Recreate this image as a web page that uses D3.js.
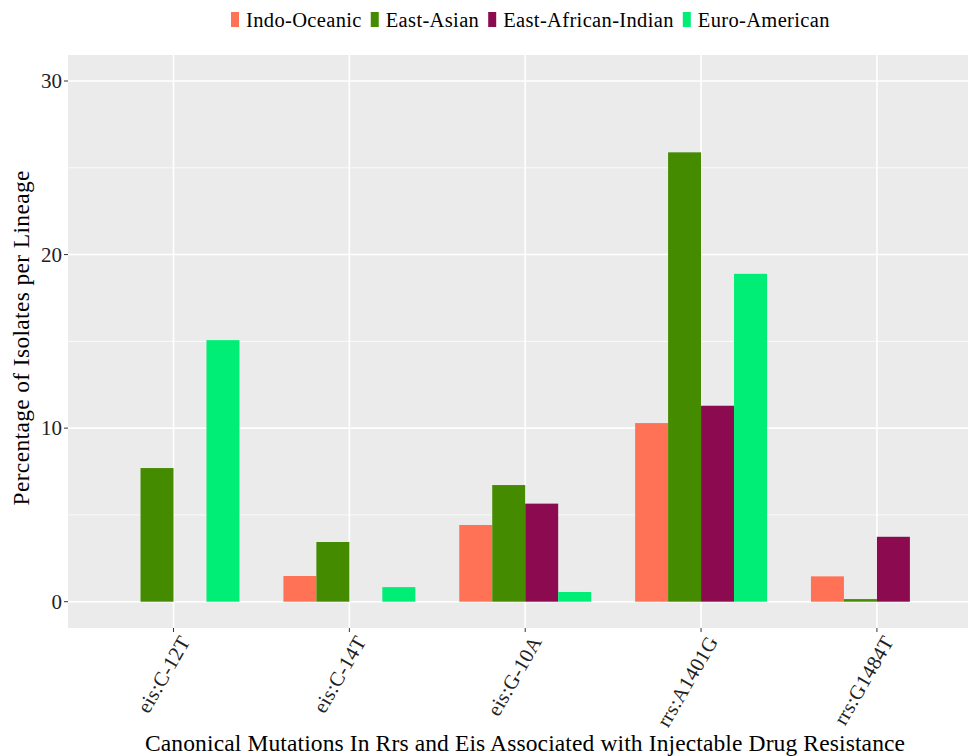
<!DOCTYPE html>
<html><head><meta charset="utf-8">
<script src="https://cdn.jsdelivr.net/npm/d3@7"></script>
<style>body{margin:0;background:#fff}svg{display:block}</style>
</head><body>
<script>
const categories = ["eis:C-12T","eis:C-14T","eis:G-10A","rrs:A1401G","rrs:G1484T"];
const lineages = ["Indo-Oceanic","East-Asian","East-African-Indian","Euro-American"];
const colors = ["#FF7256","#458B00","#8B0A50","#00EE76"];
const indoOceanic = [0, 1.48, 4.42, 10.29, 1.46];
const eastAsian = [7.7, 3.44, 6.72, 25.89, 0.15];
const eastAfricanIndian = [0, 0, 5.65, 11.29, 3.74];
const euroAmerican = [15.07, 0.84, 0.56, 18.89, 0];
const yTicks = [0, 10, 20, 30];
const yMinor = [5, 15, 25];
const seriesValues = [indoOceanic, eastAsian, eastAfricanIndian, euroAmerican];

const W = 968, H = 756;
const svg = d3.select("body").append("svg").attr("width", W).attr("height", H);
const font = "Liberation Serif";

const panel = {left: 68, top: 55, right: 968, bottom: 628};
const x = d3.scaleLinear().domain([-0.6, 4.6]).range([panel.left, panel.left + 5.2 * 175.85]);
const y = d3.scaleLinear().domain([0, 30]).range([601.7, 81]);

svg.append("rect").attr("x", panel.left).attr("y", panel.top)
  .attr("width", panel.right - panel.left).attr("height", panel.bottom - panel.top)
  .attr("fill", "#EBEBEB");

const g = svg.append("g");
g.selectAll(".minor").data(yMinor).join("line")
  .attr("x1", panel.left).attr("x2", panel.right)
  .attr("y1", d => y(d)).attr("y2", d => y(d))
  .attr("stroke", "#fff").attr("stroke-width", 0.8);
g.selectAll(".major").data(yTicks).join("line")
  .attr("x1", panel.left).attr("x2", panel.right)
  .attr("y1", d => y(d)).attr("y2", d => y(d))
  .attr("stroke", "#fff").attr("stroke-width", 1.6);
g.selectAll(".vmajor").data(categories).join("line")
  .attr("x1", (d, i) => x(i)).attr("x2", (d, i) => x(i))
  .attr("y1", panel.top).attr("y2", panel.bottom)
  .attr("stroke", "#fff").attr("stroke-width", 1.6);

const groupW = 0.75;
const bw = groupW / lineages.length;
lineages.forEach((s, si) => {
  g.selectAll(".bar" + si).data(seriesValues[si]).join("rect")
    .attr("x", (d, i) => x(i - groupW / 2 + si * bw))
    .attr("width", x(bw) - x(0))
    .attr("y", d => y(d))
    .attr("height", d => y(0) - y(d))
    .attr("fill", colors[si]);
});

const ya = svg.append("g");
ya.selectAll("line").data(yTicks).join("line")
  .attr("x1", panel.left - 4).attr("x2", panel.left)
  .attr("y1", d => y(d)).attr("y2", d => y(d))
  .attr("stroke", "#333").attr("stroke-width", 1);
ya.selectAll("text").data(yTicks).join("text")
  .attr("x", panel.left - 6).attr("y", d => y(d))
  .attr("dy", "0.35em").attr("text-anchor", "end")
  .attr("font-family", font).attr("font-size", 21).attr("fill", "#222")
  .text(d => d);

const xa = svg.append("g");
xa.selectAll("line").data(categories).join("line")
  .attr("x1", (d, i) => x(i)).attr("x2", (d, i) => x(i))
  .attr("y1", panel.bottom).attr("y2", panel.bottom + 4)
  .attr("stroke", "#333").attr("stroke-width", 1);
xa.selectAll("text").data(categories).join("text")
  .attr("transform", (d, i) => `translate(${x(i) + 5},${panel.bottom + 6}) rotate(-60)`)
  .attr("text-anchor", "end").attr("dy", "0.7em")
  .attr("font-family", font).attr("font-size", 20.5).attr("letter-spacing", 0.3).attr("fill", "#222")
  .text(d => d);

svg.append("text")
  .attr("x", 525).attr("y", 751)
  .attr("text-anchor", "middle")
  .attr("font-family", font).attr("font-size", 23.5).attr("fill", "#000")
  .attr("textLength", 760).attr("lengthAdjust", "spacing")
  .text("Canonical Mutations In Rrs and Eis Associated with Injectable Drug Resistance");
svg.append("text")
  .attr("transform", `translate(29,${338}) rotate(-90)`)
  .attr("text-anchor", "middle")
  .attr("font-family", font).attr("font-size", 23.5).attr("fill", "#000")
  .attr("textLength", 335).attr("lengthAdjust", "spacing")
  .text("Percentage of Isolates per Lineage");

const legend = svg.append("g");
let lx = 231;
lineages.forEach((s, i) => {
  legend.append("rect").attr("x", lx).attr("y", 12).attr("width", 8).attr("height", 15)
    .attr("fill", colors[i]);
  const t = legend.append("text").attr("x", lx + 15).attr("y", 27)
    .attr("font-family", font).attr("font-size", 20.5).attr("letter-spacing", 0.35)
    .attr("fill", "#000").text(s);
  lx += 15 + t.node().getComputedTextLength() + 9;
});
</script>
</body></html>
